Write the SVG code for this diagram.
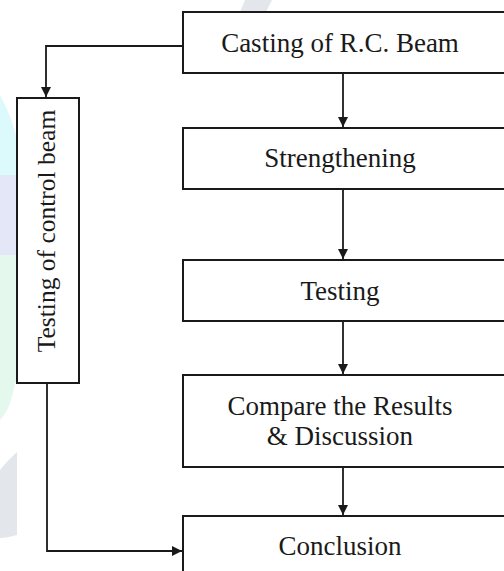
<svg xmlns="http://www.w3.org/2000/svg" width="504" height="571" viewBox="0 0 504 571">
  <defs>
    <marker id="arrow" viewBox="0 0 10 10" refX="10" refY="5" markerWidth="10" markerHeight="10" markerUnits="userSpaceOnUse" orient="auto">
      <path d="M0,0 L10,5 L0,10 z" fill="#1a1a1a"/>
    </marker>
    <style>
      .box { fill: #ffffff; stroke: #1a1a1a; stroke-width: 2; }
      .lbl { font-size: 27px; fill: #1a1a1a; text-anchor: middle; }
      .conn { fill: none; stroke: #1a1a1a; stroke-width: 1.8; }
    </style>
  </defs>
  <rect x="0" y="0" width="504" height="571" fill="#ffffff"/>
  <g id="watermark">
    <path d="M0,95 C8,110 14,125 17,140 L17,175 L0,175 Z" fill="#dcfafb"/>
    <path d="M0,175 L17,175 L17,255 L0,255 Z" fill="#e4e7f8"/>
    <path d="M0,255 L17,255 L17,383 L15,383 C12,400 8,412 0,420 Z" fill="#e4f8ee"/>
    <path d="M0,470 C8,460 14,455 17,452 L17,535 C10,537 5,538 0,538 Z" fill="#e3e7ec"/>
    <path d="M245,0 L272,0 L266,12 L240,12 Z" fill="#e3e7ec"/>
  </g>
  <g id="connectors">
    <path class="conn" d="M183,46 L46,46 L46,97" marker-end="url(#arrow)"/>
    <path class="conn" d="M343,73 L343,127" marker-end="url(#arrow)"/>
    <path class="conn" d="M343,189 L343,259" marker-end="url(#arrow)"/>
    <path class="conn" d="M343,321 L343,374" marker-end="url(#arrow)"/>
    <path class="conn" d="M343,467 L343,515" marker-end="url(#arrow)"/>
    <path class="conn" d="M47,383 L47,551 L182,551" marker-end="url(#arrow)"/>
  </g>
  <g id="casting" font-family="Liberation Serif, DejaVu Serif, serif">
    <rect class="box" x="183" y="12" width="330" height="61"/>
    <text class="lbl" x="340" y="52">Casting of R.C. Beam</text>
  </g>
  <g id="strengthening" font-family="Liberation Serif, DejaVu Serif, serif">
    <rect class="box" x="183" y="128" width="330" height="61"/>
    <text class="lbl" x="340" y="167">Strengthening</text>
  </g>
  <g id="testing" font-family="Liberation Serif, DejaVu Serif, serif">
    <rect class="box" x="183" y="260" width="330" height="61"/>
    <text class="lbl" x="340" y="300">Testing</text>
  </g>
  <g id="compare" font-family="Liberation Serif, DejaVu Serif, serif">
    <rect class="box" x="183" y="375" width="330" height="92"/>
    <text class="lbl" x="340" y="415">Compare the Results</text>
    <text class="lbl" x="340" y="445">&amp; Discussion</text>
  </g>
  <g id="conclusion" font-family="Liberation Serif, DejaVu Serif, serif">
    <rect class="box" x="183" y="516" width="330" height="70"/>
    <text class="lbl" x="340" y="555">Conclusion</text>
  </g>
  <g id="control" font-family="Liberation Serif, DejaVu Serif, serif">
    <rect class="box" x="17" y="98" width="62" height="285"/>
    <text class="lbl" font-size="25.5" style="font-size:25.5px" transform="translate(55,231) rotate(-90)" x="0" y="0">Testing of control beam</text>
  </g>
</svg>
